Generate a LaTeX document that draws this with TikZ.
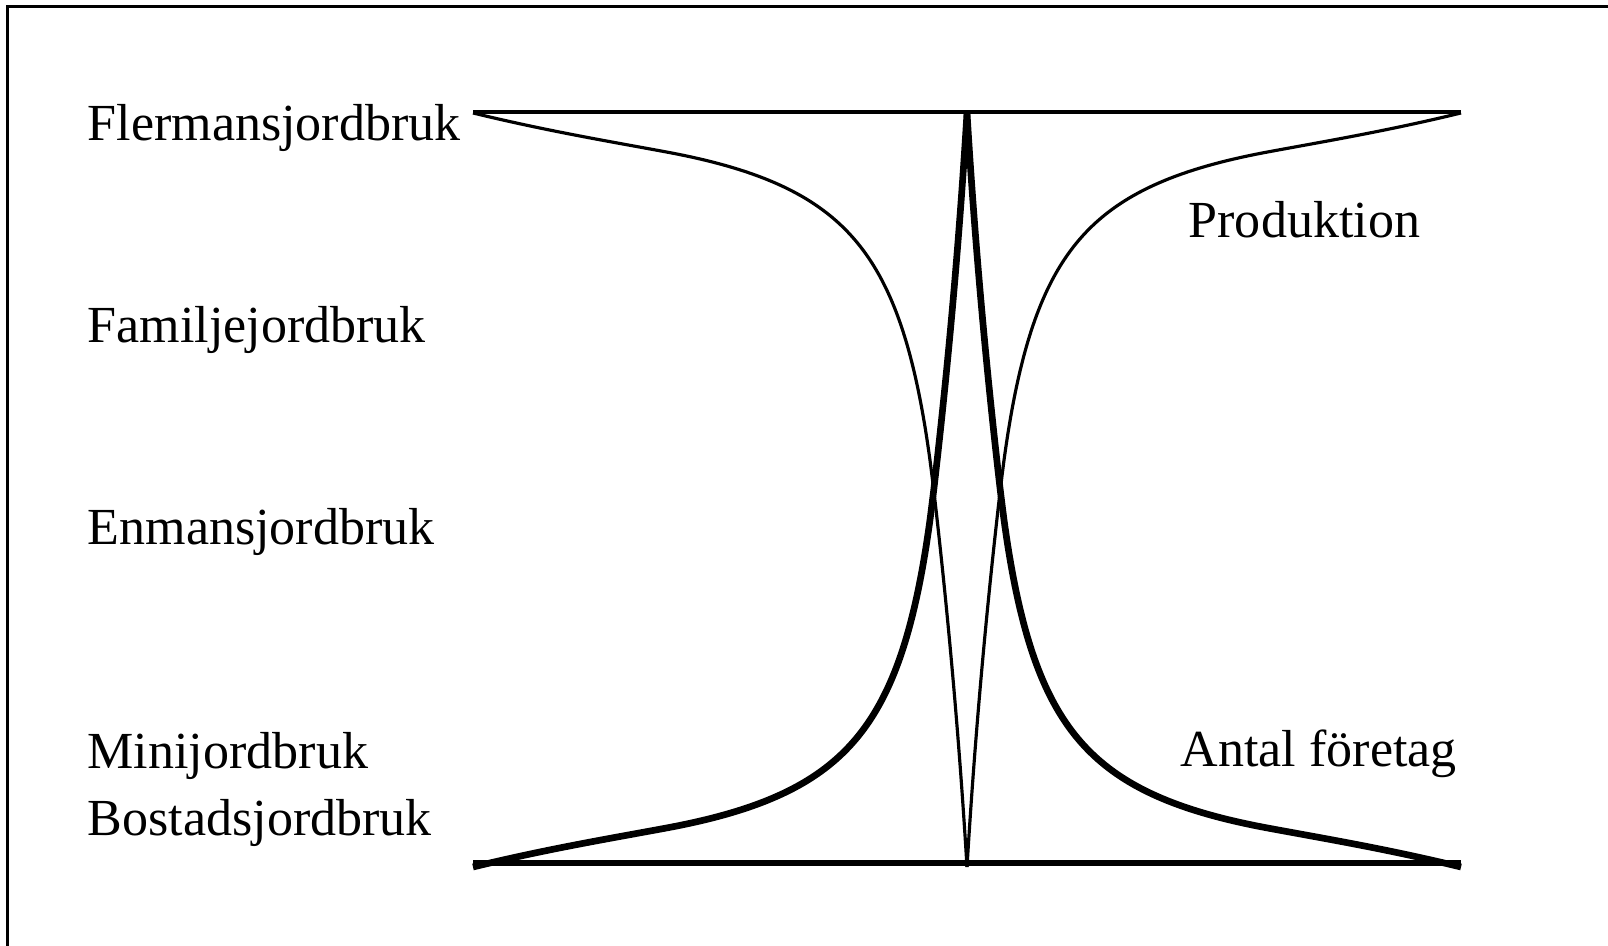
\documentclass[tikz,border=0pt]{standalone}
\usepackage{fontspec}
\setmainfont{Liberation Serif}

\begin{document}
\begin{tikzpicture}[
  x=0.01cm, y=-0.01cm,
  every node/.style={font=\fontsize{14.8}{18}\selectfont, inner sep=0pt, anchor=base west},
  declare function={
    hyp(\u)=100*(182.59/(\u+12.82))-19.26-(\u>300)*16.8*((\u-300)/194)^2;
    tail(\v)=33.25-0.116*(\v-377)+(0.008585*(\v-377))^2;
  },
  frame/.style={draw, line width=0.9pt},
  baseline/.style={line width=0.9pt},
  prod/.style={line width=0.9pt, line join=round},
  antal/.style={line width=1.9pt, line join=round},
  floor/.style={line width=1.9pt}
]
  \useasboundingbox (0,0) rectangle (1608,946);
  % Frame (right and bottom sides lie off the page)
  \draw[frame] (7.5,6.5) rectangle (1700,1050);

  % Labels
  \node (fler) at (87,141) {Flermansjordbruk};
  \node (fam) at (87,343) {Familjejordbruk};
  \node (enm) at (87,545) {Enmansjordbruk};
  \node (mini) at (87,769) {Minijordbruk};
  \node (bost) at (87,836) {Bostadsjordbruk};
  \node (prodlabel) at (1188,238) {Produktion};
  \node (antallabel) at (1180,767) {Antal företag};

  % Top and bottom lines
  \coordinate (tl) at (473,112);
  \coordinate (tr) at (1461,112);
  \coordinate (bl) at (473,863);
  \coordinate (br) at (1461,863);
  \draw[baseline] (tl) -- (tr);
  \draw[floor] (bl) -- (br);

  % Produktion
  \draw[prod] plot[smooth, domain=494:33.25, samples=120] ({967-\x},{113+hyp(\x)})
    -- plot[smooth, domain=377:754, samples=20] ({967-tail(\x)},{113+\x});
  \draw[prod] plot[smooth, domain=494:33.25, samples=120] ({967+\x},{113+hyp(\x)})
    -- plot[smooth, domain=377:754, samples=20] ({967+tail(\x)},{113+\x});

  % Antal foretag
  \draw[antal] plot[smooth, domain=494:33.25, samples=120] ({967-\x},{867-hyp(\x)})
    -- plot[smooth, domain=377:754, samples=20] ({967-tail(\x)},{867-\x});
  \draw[antal] plot[smooth, domain=494:33.25, samples=120] ({967+\x},{867-hyp(\x)})
    -- plot[smooth, domain=377:754, samples=20] ({967+tail(\x)},{867-\x});
\end{tikzpicture}
\end{document}
